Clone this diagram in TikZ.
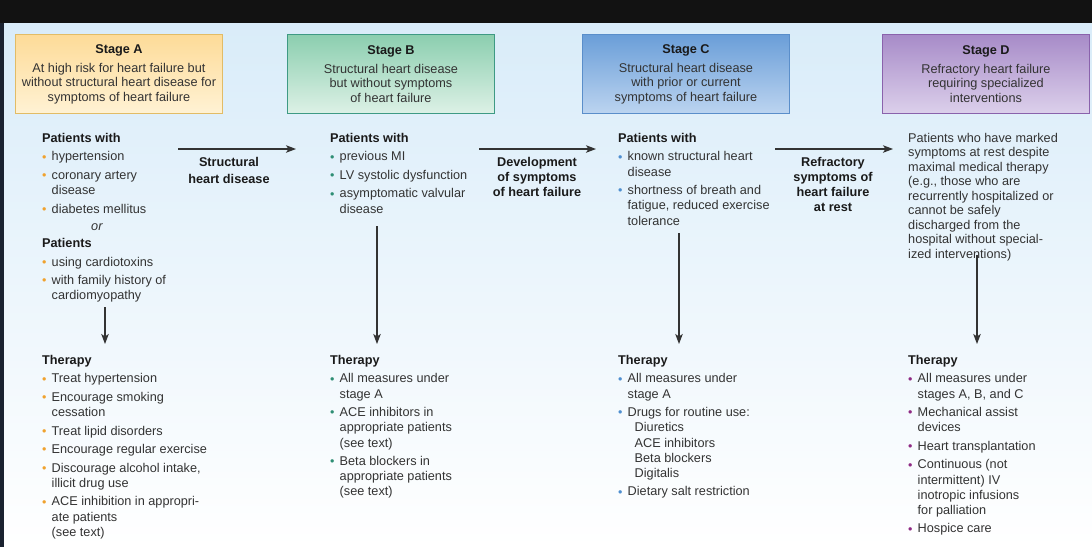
\documentclass[tikz,border=0pt]{standalone}
\usepackage{fontspec}
\setmainfont{Liberation Sans}
\usetikzlibrary{arrows.meta,positioning}

\definecolor{bgtop}{HTML}{D9ECF9}
\definecolor{bgmid}{HTML}{E7F2FB}
\definecolor{edge}{HTML}{1A2230}
\definecolor{ink}{HTML}{333333}
\definecolor{dark}{HTML}{1A1A1A}
\definecolor{orA}{HTML}{F0A22E}
\definecolor{grB}{HTML}{2E8E74}
\definecolor{blC}{HTML}{4F8FD0}
\definecolor{puD}{HTML}{8E2A84}
\definecolor{topA}{HTML}{FDDB98}
\definecolor{botA}{HTML}{FFF2D4}
\definecolor{brdA}{HTML}{E2BC66}
\definecolor{topB}{HTML}{8BCEAF}
\definecolor{botB}{HTML}{DDF1E6}
\definecolor{brdB}{HTML}{3E9A84}
\definecolor{topC}{HTML}{6A9ED8}
\definecolor{botC}{HTML}{BCD4F0}
\definecolor{brdC}{HTML}{5A8ECA}
\definecolor{topD}{HTML}{A78BC8}
\definecolor{botD}{HTML}{DCD0EB}
\definecolor{brdD}{HTML}{8A62AC}

\newcommand{\bul}[1]{\makebox[9.5pt][l]{\raisebox{-0.2pt}{\textcolor{#1}{\fontsize{12.5}{12}\selectfont\textbullet}}}}
\newcommand{\ctd}{\hspace*{9.5pt}}
\newcommand{\hd}[1]{{\color{dark}\bfseries #1}}

\begin{document}
\begin{tikzpicture}[x=1pt,y=-1pt,
  every node/.style={inner sep=0pt, text=ink, font=\fontsize{12.7}{15.2}\selectfont},
  stagebox/.style={draw, line width=0.9pt, minimum width=207pt, minimum height=79pt,
    anchor=north west, align=center, font=\fontsize{12.7}{14.5}\selectfont},
  list/.style={anchor=north west, align=left},
  flowlab/.style={anchor=north, align=center, text=dark,
    font=\fontsize{12.7}{14.8}\selectfont\bfseries},
  flow/.style={draw=ink, line width=1.1pt, -{Stealth[length=10pt,width=7.5pt,inset=2.5pt]}}]

%% background
\useasboundingbox (0,0) rectangle (1092,547);
\shade[top color=bgtop, middle color=bgmid, bottom color=white] (0,22) rectangle (1092,547);
\fill[black!93] (0,0) rectangle (1092,22.5);
\fill[edge] (0,22.5) rectangle (3.5,547);

%% stage boxes
\node[stagebox, draw=brdA, top color=topA, bottom color=botA] (sA) at (15,34)
  {\hd{Stage A}\\[4.5pt]At high risk for heart failure but\\without structural heart disease for\\symptoms of heart failure};
\node[stagebox, draw=brdB, top color=topB, bottom color=botB] (sB) at (287,34)
  {\hd{Stage B}\\[4.5pt]Structural heart disease\\but without symptoms\\of heart failure};
\node[stagebox, draw=brdC, top color=topC, bottom color=botC] (sC) at (582,34)
  {\hd{Stage C}\\[4.5pt]Structural heart disease\\with prior or current\\symptoms of heart failure};
\node[stagebox, draw=brdD, top color=topD, bottom color=botD] (sD) at (882,34)
  {\hd{Stage D}\\[4.5pt]Refractory heart failure\\requiring specialized\\interventions};

%% patients
\node[list] (pA) at (42,133) {\hd{Patients with}\\[3.3pt]
  \bul{orA}hypertension\\[3.3pt]
  \bul{orA}coronary artery\\
  \ctd disease\\[3.3pt]
  \bul{orA}diabetes mellitus\\[2pt]
  \hspace*{49pt}\textit{or}\\[2pt]
  \hd{Patients}\\[3.3pt]
  \bul{orA}using cardiotoxins\\[3.3pt]
  \bul{orA}with family history of\\
  \ctd cardiomyopathy};
\node[list] (pB) at (330,133) {\hd{Patients with}\\[3.3pt]
  \bul{grB}previous MI\\[3.3pt]
  \bul{grB}LV systolic dysfunction\\[3.3pt]
  \bul{grB}asymptomatic valvular\\
  \ctd disease};
\node[list] (pC) at (618,133) {\hd{Patients with}\\[3.3pt]
  \bul{blC}known structural heart\\
  \ctd disease\\[3.3pt]
  \bul{blC}shortness of breath and\\
  \ctd fatigue, reduced exercise\\
  \ctd tolerance};
\node[list, font=\fontsize{12.7}{14.5}\selectfont] (pD) at (908,133) {Patients who have marked\\
  symptoms at rest despite\\
  maximal medical therapy\\
  (e.g., those who are\\
  recurrently hospitalized or\\
  cannot be safely\\
  discharged from the\\
  hospital without special-\\
  ized interventions)};

%% therapy
\node[list] (tA) at (42,355) {\hd{Therapy}\\[3.3pt]
  \bul{orA}Treat hypertension\\[3.3pt]
  \bul{orA}Encourage smoking\\
  \ctd cessation\\[3.3pt]
  \bul{orA}Treat lipid disorders\\[3.3pt]
  \bul{orA}Encourage regular exercise\\[3.3pt]
  \bul{orA}Discourage alcohol intake,\\
  \ctd illicit drug use\\[3.3pt]
  \bul{orA}ACE inhibition in appropri-\\
  \ctd ate patients\\
  \ctd (see text)};
\node[list] (tB) at (330,355) {\hd{Therapy}\\[3.3pt]
  \bul{grB}All measures under\\
  \ctd stage A\\[3.3pt]
  \bul{grB}ACE inhibitors in\\
  \ctd appropriate patients\\
  \ctd (see text)\\[3.3pt]
  \bul{grB}Beta blockers in\\
  \ctd appropriate patients\\
  \ctd (see text)};
\node[list] (tC) at (618,355) {\hd{Therapy}\\[3.3pt]
  \bul{blC}All measures under\\
  \ctd stage A\\[3.3pt]
  \bul{blC}Drugs for routine use:\\
  \ctd\hspace*{7pt}Diuretics\\
  \ctd\hspace*{7pt}ACE inhibitors\\
  \ctd\hspace*{7pt}Beta blockers\\
  \ctd\hspace*{7pt}Digitalis\\[3.3pt]
  \bul{blC}Dietary salt restriction};
\node[list] (tD) at (908,355) {\hd{Therapy}\\[3.3pt]
  \bul{puD}All measures under\\
  \ctd stages A, B, and C\\[3.3pt]
  \bul{puD}Mechanical assist\\
  \ctd devices\\[3.3pt]
  \bul{puD}Heart transplantation\\[3.3pt]
  \bul{puD}Continuous (not\\
  \ctd intermittent) IV\\
  \ctd inotropic infusions\\
  \ctd for palliation\\[3.3pt]
  \bul{puD}Hospice care};

%% transitions
\node[flowlab] (lA) at (229,157.5) {Structural\\[2pt]heart disease};
\node[flowlab] (lB) at (537,157.5) {Development\\of symptoms\\of heart failure};
\node[flowlab] (lC) at (833,157.5) {Refractory\\symptoms of\\heart failure\\at rest};

\foreach \n/\xa/\xb in {A/178/296, B/479/596, C/775/893}{
  \coordinate (h\n1) at (\xa,149);
  \coordinate (h\n2) at (\xb,149);
  \draw[flow] (h\n1) -- (h\n2);
}

% down to therapy
\foreach \n/\x/\ya in {A/105/307, B/377/226, C/679/233, D/977/255}{
  \coordinate (d\n1) at (\x,\ya);
  \coordinate (d\n2) at (\x,344);
  \draw[flow] (d\n1) -- (d\n2);
}

\end{tikzpicture}
\end{document}
